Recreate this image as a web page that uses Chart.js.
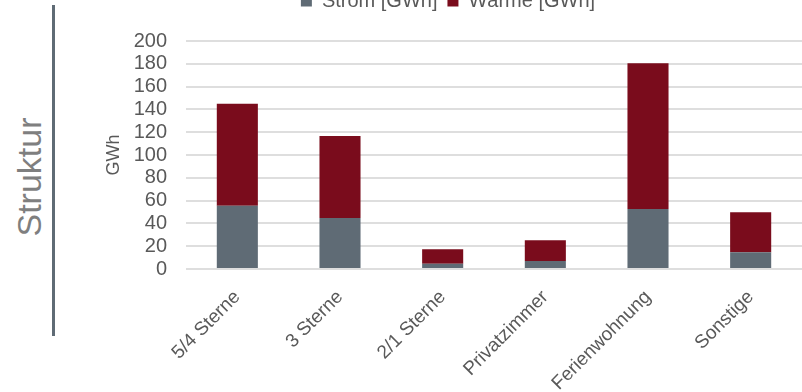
<!DOCTYPE html>
<html lang="de">
<head>
    <meta charset="UTF-8">
    <title>Energieverbrauch nach Betriebsart</title>
    <script src="https://cdn.jsdelivr.net/npm/chart.js"></script>
    <style>
        * {
            margin: 0;
            padding: 0;
            box-sizing: border-box;
        }

        body {
            width: 802px;
            height: 392px;
            overflow: hidden;
            background: #fff;
            position: relative;
            font-family: 'Liberation Sans', Arial, sans-serif;
        }

        .side-title {
            position: absolute;
            left: 29px;
            top: 177px;
            transform: translate(-50%, -50%) rotate(-90deg);
            font-size: 34px;
            line-height: 1;
            color: #7f7f7f;
            white-space: nowrap;
        }

        .side-bar {
            position: absolute;
            left: 52px;
            top: 5px;
            width: 3px;
            height: 331px;
            background: #5f6b75;
        }

        .chart-box {
            position: absolute;
            left: 0;
            top: -19px;
            width: 802px;
            height: 411px;
        }
    </style>
</head>
<body>
    <div class="side-title">Struktur</div>
    <div class="side-bar"></div>

    <div class="chart-box">
        <canvas id="energyChart"></canvas>
    </div>

    <script>
        const categories = ["5/4 Sterne", "3 Sterne", "2/1 Sterne", "Privatzimmer", "Ferienwohnung", "Sonstige"];
        const stromGWh = [55.5, 44.7, 4.6, 7.0, 52.6, 14.6];
        const waermeGWh = [89.5, 72.0, 12.7, 18.2, 127.8, 35.1];
        const yTicks = [0, 20, 40, 60, 80, 100, 120, 140, 160, 180, 200];

        const textColor = "#595959";
        const fontFamily = "'Liberation Sans', Arial, sans-serif";

        const ctx = document.getElementById("energyChart").getContext("2d");
        new Chart(ctx, {
            type: "bar",
            data: {
                labels: categories,
                datasets: [
                    {
                        label: "Strom [GWh]",
                        data: stromGWh,
                        backgroundColor: "#5f6b75",
                        barPercentage: 0.4,
                        categoryPercentage: 1
                    },
                    {
                        label: "Wärme [GWh]",
                        data: waermeGWh,
                        backgroundColor: "#7a0c1c",
                        barPercentage: 0.4,
                        categoryPercentage: 1
                    }
                ]
            },
            options: {
                responsive: true,
                maintainAspectRatio: false,
                animation: false,
                layout: { padding: { left: 94, right: 0, top: 0, bottom: 0 } },
                plugins: {
                    legend: {
                        position: "top",
                        labels: {
                            boxWidth: 11,
                            boxHeight: 11,
                            padding: 10,
                            color: textColor,
                            font: { family: fontFamily, size: 20 }
                        }
                    },
                    tooltip: { enabled: false }
                },
                scales: {
                    x: {
                        stacked: true,
                        grid: { display: false, drawTicks: false },
                        border: { display: false },
                        ticks: {
                            minRotation: 45,
                            maxRotation: 45,
                            padding: 17,
                            color: textColor,
                            font: { family: fontFamily, size: 19 }
                        },
                        afterFit: (scale) => { scale.height = 123; }
                    },
                    // empty top axis: keeps a gap between legend and plot
                    xGap: {
                        type: "category",
                        position: "top",
                        grid: { display: false, drawTicks: false },
                        border: { display: false },
                        ticks: { display: false },
                        afterFit: (scale) => { scale.height = 20; }
                    },
                    y: {
                        stacked: true,
                        min: 0,
                        max: 200,
                        afterBuildTicks: (scale) => {
                            scale.ticks = yTicks.map(v => ({ value: v }));
                        },
                        grid: { color: "#dedede", lineWidth: 2, drawTicks: false },
                        border: { display: false },
                        ticks: {
                            autoSkip: false,
                            padding: 19,
                            color: textColor,
                            font: { family: fontFamily, size: 20 }
                        },
                        title: {
                            display: true,
                            text: "GWh",
                            color: textColor,
                            padding: { top: 9, bottom: 0 },
                            font: { family: fontFamily, size: 18 }
                        },
                        afterFit: (scale) => { scale.width = 92; }
                    }
                }
            }
        });
    </script>
</body>
</html>
